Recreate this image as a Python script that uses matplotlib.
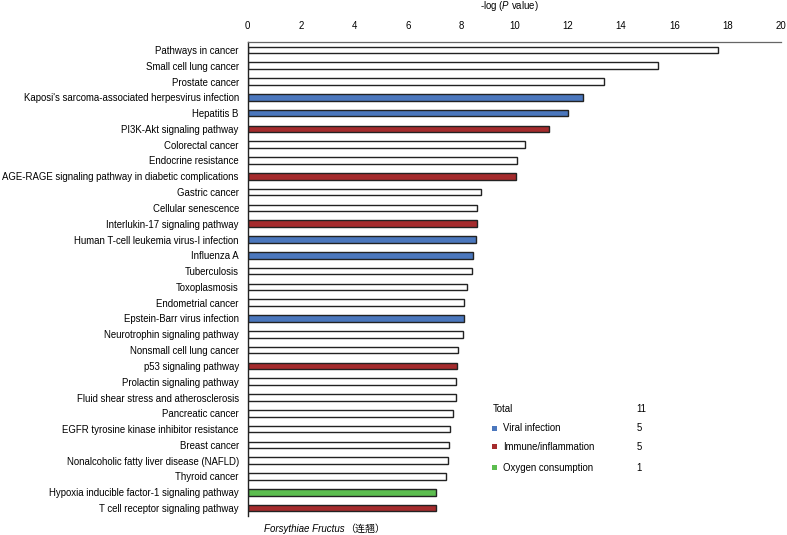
import matplotlib
matplotlib.use("Agg")
import matplotlib.pyplot as plt
from matplotlib.patches import Rectangle

plt.rcParams["font.family"] = ["Liberation Sans", "Noto Sans CJK SC", "DejaVu Sans"]
plt.rcParams["mathtext.fontset"] = "custom"
plt.rcParams["mathtext.rm"] = "Liberation Sans"
plt.rcParams["mathtext.it"] = "Liberation Sans:italic"

pathways = [
    "Pathways in cancer",
    "Small cell lung cancer",
    "Prostate cancer",
    "Kaposi's sarcoma-associated herpesvirus infection",
    "Hepatitis B",
    "PI3K-Akt signaling pathway",
    "Colorectal cancer",
    "Endocrine resistance",
    "AGE-RAGE signaling pathway in diabetic complications",
    "Gastric cancer",
    "Cellular senescence",
    "Interlukin-17 signaling pathway",
    "Human T-cell leukemia virus-I infection",
    "Influenza A",
    "Tuberculosis",
    "Toxoplasmosis",
    "Endometrial cancer",
    "Epstein-Barr virus infection",
    "Neurotrophin signaling pathway",
    "Nonsmall cell lung cancer",
    "p53 signaling pathway",
    "Prolactin signaling pathway",
    "Fluid shear stress and atherosclerosis",
    "Pancreatic cancer",
    "EGFR tyrosine kinase inhibitor resistance",
    "Breast cancer",
    "Nonalcoholic fatty liver disease (NAFLD)",
    "Thyroid cancer",
    "Hypoxia inducible factor-1 signaling pathway",
    "T cell receptor signaling pathway",
]
neglogp = [17.63, 15.38, 13.37, 12.57, 12.03, 11.30, 10.40, 10.10, 10.05,
           8.76, 8.61, 8.59, 8.56, 8.46, 8.41, 8.23, 8.13, 8.10, 8.09, 7.89,
           7.84, 7.83, 7.81, 7.69, 7.58, 7.56, 7.53, 7.42, 7.08, 7.06]
# category per pathway: "" = none, "viral", "immune", "oxygen"
category = ["", "", "", "viral", "viral", "immune", "", "", "immune",
            "", "", "immune", "viral", "viral", "", "", "", "viral", "", "",
            "immune", "", "", "", "", "", "", "", "oxygen", "immune"]

cat_names = ["Viral infection", "Immune/inflammation", "Oxygen consumption"]
cat_keys = ["viral", "immune", "oxygen"]
cat_counts = [5, 5, 1]
total_count = 11

colors = {"": "white", "viral": "#4b77bd", "immune": "#a52b2d", "oxygen": "#5cbd4f"}

fig = plt.figure(figsize=(7.87, 5.35), dpi=100)
ax = fig.add_axes([247.8 / 787, 1 - 516 / 535, 533 / 787, 474 / 535])

ypos = list(range(len(pathways)))
ax.barh(ypos, neglogp, height=0.42, color=[colors[c] for c in category],
        edgecolor="#222222", linewidth=1.0)

ax.set_xlim(0, 20)
ax.set_ylim(len(pathways) - 0.5, -0.5)
ax.set_yticks(ypos)
ax.set_yticklabels(pathways, fontsize=6.9)
ax.set_xticks(range(0, 21, 2))
ax.xaxis.tick_top()
ax.tick_params(axis="x", length=0, pad=8, labelsize=6.9)
ax.tick_params(axis="y", length=0, pad=6.5)
ax.spines["right"].set_visible(False)
ax.spines["bottom"].set_visible(False)
ax.spines["top"].set_color("#666666")
ax.spines["top"].set_linewidth(0.9)
ax.spines["left"].set_color("#222222")
ax.spines["left"].set_linewidth(1.0)

fig.text(509 / 787, 1 - 6 / 535, "-log ($\\it{P}$ value)", ha="center",
         va="center", fontsize=6.9)

# legend block
def fy(px):
    return 1 - px / 535

fig.text(492.7 / 787, fy(409.5), "Total", ha="left", va="center", fontsize=6.9)
fig.text(641 / 787, fy(409.5), str(total_count), ha="center", va="center", fontsize=6.9)
legend_y = [428.3, 446.7, 467.7]
for name, key, cnt, yy in zip(cat_names, cat_keys, cat_counts, legend_y):
    fig.patches.append(Rectangle((491.8 / 787, fy(yy + 2.5)), 5 / 787, 5 / 535,
                                 transform=fig.transFigure, facecolor=colors[key],
                                 edgecolor="none"))
    fig.text(502.7 / 787, fy(yy), name, ha="left", va="center", fontsize=6.9)
    fig.text(639 / 787, fy(yy), str(cnt), ha="center", va="center", fontsize=6.9)

fig.text(264 / 787, fy(529), "Forsythiae Fructus", ha="left", va="center",
         fontsize=7, style="italic")
fig.text(345 / 787, fy(529), "（连翘）", ha="left", va="center", fontsize=7.2,
         family=["Noto Sans CJK SC", "DejaVu Sans"])

fig.savefig("out.png", dpi=100)
